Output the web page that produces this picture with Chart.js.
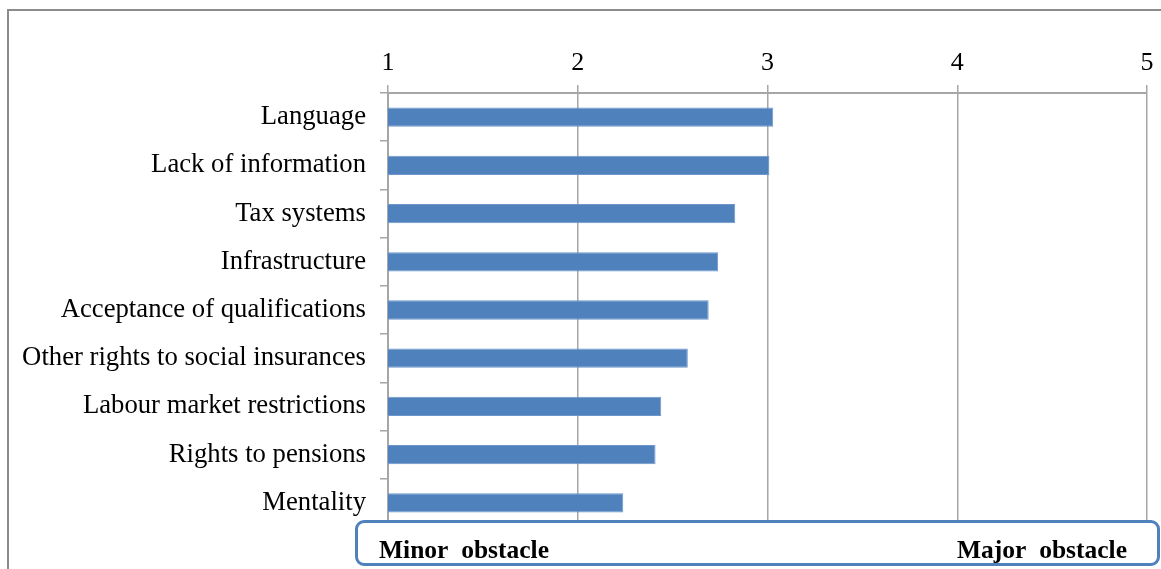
<!DOCTYPE html>
<html>
<head>
<meta charset="utf-8">
<script src="https://cdn.jsdelivr.net/npm/chart.js@4"></script>
<style>
  body { margin: 0; background: #fff; }
  #wrap { position: relative; width: 1161px; height: 569px; overflow: hidden; }
  #frame { position: absolute; left: 7px; top: 9px; width: 1200px; height: 600px; border: 2px solid #8c8c8c; box-sizing: border-box; }
  #box { position: absolute; left: 355px; top: 520px; width: 805px; height: 46px; border: 3px solid #4f81bd; border-radius: 9px; background: #fff; box-sizing: border-box;
         font-family: "Liberation Serif", serif; font-weight: bold; font-size: 25.5px; line-height: 25px; color: #000; }
  #box span { position: absolute; top: 14px; }
</style>
</head>
<body>
<div id="wrap">
  <div id="frame"></div>
  <canvas id="obstacleChart" width="1161" height="569"></canvas>
  <div id="box"><span style="left:21px">Minor&nbsp; obstacle</span><span style="right:30px">Major&nbsp; obstacle</span></div>
</div>
<script>
// Obstacles to mobility, mean rating (1 = minor, 5 = major)
const categories = [
    'Language',
    'Lack of information',
    'Tax systems',
    'Infrastructure',
    'Acceptance of qualifications',
    'Other rights to social insurances',
    'Labour market restrictions',
    'Rights to pensions',
    'Mentality'
];
const ratings = [3.03, 3.01, 2.83, 2.74, 2.69, 2.58, 2.44, 2.41, 2.24];
const tickValues = [1, 2, 3, 4, 5];

const font = { family: 'Liberation Serif', size: 26 };

new Chart(document.getElementById('obstacleChart').getContext('2d'), {
    type: 'bar',
    data: {
        labels: categories,
        datasets: [{
            label: 'Rating',
            data: ratings,
            backgroundColor: '#4f81bd',
            borderColor: '#6d97cb',
            borderWidth: 1,
            borderSkipped: false,
            barPercentage: 0.4,
            categoryPercentage: 1
        }]
    },
    options: {
        indexAxis: 'y',
        responsive: false,
        animation: false,
        layout: { padding: { top: 0, right: 14, bottom: 42, left: 0 } },
        plugins: {
            legend: { display: false },
            tooltip: { enabled: false }
        },
        scales: {
            x: {
                position: 'top',
                min: 1,
                max: 5,
                afterBuildTicks: scale => { scale.ticks = tickValues.map(v => ({ value: v })); },
                ticks: { color: '#000', font: font, padding: 6 },
                grid: { color: '#a6a6a6', lineWidth: 1.5, tickLength: 8 },
                border: { color: '#a6a6a6', width: 2 },
                afterFit: scale => { scale.height = 93; }
            },
            y: {
                ticks: { color: '#000', font: { family: 'Liberation Serif', size: 26.7 }, padding: 14 },
                grid: { drawOnChartArea: false, color: '#a6a6a6', lineWidth: 1.5, tickLength: 8 },
                border: { color: '#a6a6a6', width: 2 },
                afterFit: scale => { scale.width = 388; }
            }
        }
    }
});
</script>
</body>
</html>
